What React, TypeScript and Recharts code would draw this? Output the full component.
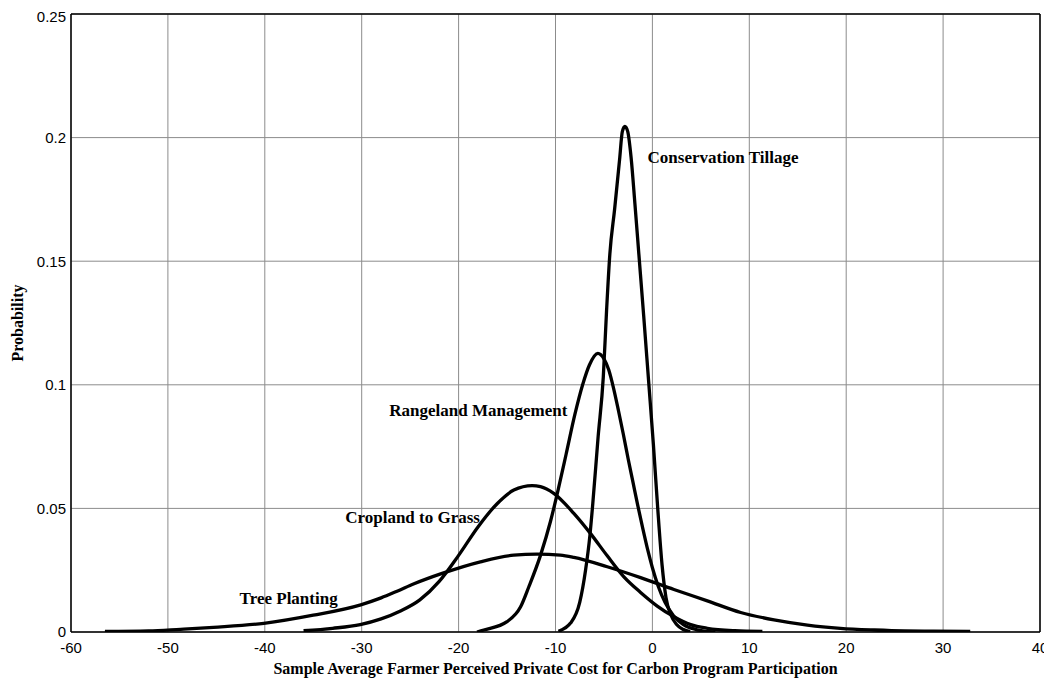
import React from 'react';
import { LineChart, Line, XAxis, YAxis, CartesianGrid, ReferenceLine, ReferenceDot } from 'recharts';

const X_TICKS = [-60, -50, -40, -30, -20, -10, 0, 10, 20, 30, 40];
const Y_TICKS = [0, 0.05, 0.1, 0.15, 0.2, 0.25];
const Y_TICK_LABELS = ['0', '0.05', '0.1', '0.15', '0.2', '0.25'];

const CT_X = [-9.7, -8.45, -7.5, -6.9, -6.45, -6.15, -5.6, -5.07, -4.73, -4.39, -3.9, -3.39, -3.1, -2.84, -2.55, -2.2, -1.8, -1.4, -0.9, -0.4, 0.1, 0.55, 1.0, 1.4, 1.9, 2.5, 3.2, 3.9];
const CT_Y = [0.0003, 0.0036, 0.012, 0.025, 0.039, 0.052, 0.079, 0.103, 0.13, 0.153, 0.171, 0.191, 0.2025, 0.2045, 0.2025, 0.192, 0.173, 0.153, 0.128, 0.102, 0.076, 0.05, 0.027, 0.014, 0.007, 0.003, 0.001, 0.0002];

const RM_X = [-18.1, -17.4, -15.0, -13.6, -12.75, -11.55, -10.5, -9.7, -8.9, -8.0, -7.2, -6.5, -5.63, -5.0, -4.5, -4.0, -3.5, -3.0, -2.5, -2.0, -1.5, -1.0, -0.5, 0.0, 0.6, 1.3, 2.2, 3.2, 4.5, 6.5];
const RM_Y = [0, 0.0008, 0.0042, 0.0102, 0.0183, 0.031, 0.045, 0.058, 0.072, 0.088, 0.1, 0.108, 0.1127, 0.1105, 0.106, 0.0985, 0.0895, 0.08, 0.07, 0.0605, 0.051, 0.042, 0.0335, 0.026, 0.0185, 0.012, 0.0065, 0.003, 0.001, 0];

const CG_X = [-36, -33, -30.15, -28, -26, -24, -22, -20, -18, -16, -14.3, -12.41, -11.55, -10.18, -8.11, -6.38, -4.66, -2.94, -1.22, 0.5, 2.22, 3.95, 5.67, 8.5, 11.35];
const CG_Y = [0.0005, 0.0015, 0.003, 0.0053, 0.0085, 0.013, 0.0205, 0.031, 0.0425, 0.052, 0.0574, 0.0592, 0.0588, 0.0561, 0.048, 0.0398, 0.0308, 0.0223, 0.016, 0.0105, 0.0062, 0.003, 0.0015, 0.0005, 0.0002];

const TP_X = [-56.5, -52, -48.7, -45.3, -40.1, -35, -30.1, -28, -26.35, -24.6, -21.7, -17.75, -14.3, -11.9, -9.5, -8.11, -4.66, -1.22, 2.22, 5.67, 9.11, 12.55, 16, 19.4, 22.9, 26, 29, 32.8];
const TP_Y = [0.0002, 0.0004, 0.0011, 0.0019, 0.0035, 0.0068, 0.011, 0.0138, 0.0165, 0.0195, 0.0237, 0.0284, 0.0311, 0.0315, 0.0311, 0.0302, 0.0264, 0.022, 0.0172, 0.0126, 0.0079, 0.0049, 0.0028, 0.0015, 0.0008, 0.0004, 0.0003, 0.0002];

const SERIES_NAMES = ['Conservation Tillage', 'Rangeland Management', 'Cropland to Grass', 'Tree Planting'];
const LABEL_X = [-0.5, -27.15, -31.7, -42.6];
const LABEL_Y = [0.192, 0.0898, 0.0465, 0.0138];

const zip = (xs: number[], ys: number[]) => xs.map((x, i) => ({ x, y: ys[i] }));
const SERIES = [zip(CT_X, CT_Y), zip(RM_X, RM_Y), zip(CG_X, CG_Y), zip(TP_X, TP_Y)];

const SERIF = '"Liberation Serif", "Times New Roman", serif';
const SANS = '"Liberation Sans", Arial, sans-serif';

export default function App() {
  return (
    <LineChart width={1044} height={675} margin={{ top: 6, right: 12, left: 0, bottom: 0 }}>
      <CartesianGrid stroke="#8c8c8c" strokeWidth={1} horizontalValues={Y_TICKS} verticalValues={X_TICKS} />
      <XAxis
        dataKey="x"
        type="number"
        domain={[-60, 40]}
        ticks={X_TICKS}
        allowDataOverflow
        height={51}
        tickLine={false}
        tickSize={0}
        tickMargin={10}
        axisLine={{ stroke: '#000', strokeWidth: 1.5 }}
        tick={{ fontFamily: SANS, fontSize: 15, fill: '#000' }}
        label={{
          content: ({ viewBox }: any) => (
            <text x={viewBox.x + viewBox.width / 2} y={viewBox.y + 42} textAnchor="middle" fontFamily={SERIF} fontWeight="bold" fontSize={16} fill="#000">
              Sample Average Farmer Perceived Private Cost for Carbon Program Participation
            </text>
          ),
        }}
      />
      <YAxis
        type="number"
        domain={[0, 0.25]}
        ticks={Y_TICKS}
        allowDataOverflow
        width={63}
        tickLine={false}
        tickSize={0}
        tickMargin={5}
        tickFormatter={(v: number) => Y_TICK_LABELS[Y_TICKS.indexOf(v)] ?? String(v)}
        axisLine={{ stroke: '#000', strokeWidth: 1.5 }}
        tick={{ fontFamily: SANS, fontSize: 15, fill: '#000' }}
        label={{
          content: ({ viewBox }: any) => (
            <text
              transform={`translate(${viewBox.x + 9.5}, ${viewBox.y + viewBox.height / 2}) rotate(-90)`}
              textAnchor="middle"
              dy="0.35em"
              fontFamily={SERIF}
              fontWeight="bold"
              fontSize={16}
              fill="#000"
            >
              Probability
            </text>
          ),
        }}
      />
      <ReferenceLine y={0.25} stroke="#000" strokeWidth={1.5} />
      <ReferenceLine x={40} stroke="#000" strokeWidth={1.5} />
      {SERIES.map((d, i) => (
        <Line
          key={SERIES_NAMES[i]}
          data={d}
          dataKey="y"
          type="monotone"
          stroke="#000"
          strokeWidth={3.3}
          strokeLinejoin="round"
          dot={false}
          activeDot={false}
          isAnimationActive={false}
        />
      ))}
      {SERIES_NAMES.map((name, i) => (
        <ReferenceDot
          key={'lbl' + name}
          x={LABEL_X[i]}
          y={LABEL_Y[i]}
          r={0}
          fill="none"
          stroke="none"
          label={{
            content: ({ viewBox }: any) => (
              <text x={viewBox.x} y={viewBox.y + (viewBox.height || 0) / 2} dy="0.35em" textAnchor="start" fontFamily={SERIF} fontWeight="bold" fontSize={17} fill="#000">
                {name}
              </text>
            ),
          }}
        />
      ))}
    </LineChart>
  );
}
